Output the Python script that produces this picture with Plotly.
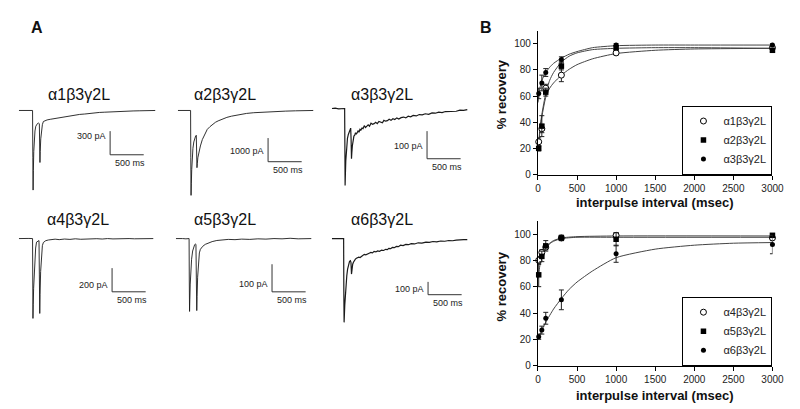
import plotly.graph_objects as go

# ======================= DATA =======================
# ---- Panel A: whole-cell current traces (time in ms, current in pA, baseline = 0) ----
a1_t = [0, 60, 120, 180, 204, 208, 212, 216, 222, 230, 240, 252, 263, 278, 292, 305, 309, 314, 318, 326,
        336, 350, 365, 390, 420, 467, 510, 560, 613, 680, 760, 830, 905, 980, 1050, 1120, 1197, 1270,
        1340, 1420, 1489, 1600, 1700, 1800, 1900, 2029]
a1_i = [0, 2, -1, 1, 0, -600, -1010, -760, -520, -360, -260, -200, -175, -165, -160, -168, -400, -660, -520, -360,
        -262, -180, -140, -130, -120, -112, -106, -95, -87, -80, -66, -60, -50, -45, -37, -32, -25, -22,
        -18, -14, -12, -9, -6, -4, -2, 0]

a2_t = [0, 60, 120, 190, 193, 197, 201, 207, 215, 225, 238, 252, 265, 275, 280, 285, 290, 298, 310, 322,
        336, 365, 394, 438, 480, 511, 560, 600, 660, 730, 800, 870, 950, 1022, 1130, 1240, 1350, 1460,
        1600, 1750, 1900, 2015]
a2_i = [0, 0, 0, 0, -2000, -3590, -3100, -2500, -1950, -1600, -1330, -1170, -1080, -1050, -1500, -2420, -2250,
        -2000, -1800, -1650, -1500, -1230, -1030, -800, -680, -600, -500, -440, -360, -292, -240, -200, -160,
        -125, -95, -75, -55, -42, -28, -15, -6, 0]

a3_t = [0, 50, 100, 150, 190, 194, 197, 201, 207, 214, 222, 232, 245, 258, 270, 280, 286, 292, 297, 305,
        315, 328, 340, 352, 364, 376, 390, 404, 418, 432, 448, 464, 482, 500, 520, 540, 560, 582, 604, 628,
        652, 676, 700, 726, 752, 774, 800, 826, 852, 880, 908, 936, 966, 996, 1030, 1066, 1100, 1136, 1172,
        1210, 1256, 1300, 1345, 1390, 1440, 1490, 1540, 1590, 1640, 1690, 1745, 1796, 1850, 1905, 1960, 2015]
a3_i = [0, 1, -1, 0, 0, -150, -279, -240, -190, -155, -128, -108, -94, -84, -76, -71, -110, -182, -160, -135,
        -112, -100, -97, -88, -93, -84, -81, -86, -75, -78, -71, -73, -62, -69, -63, -59, -64, -53, -57, -55,
        -50, -55, -47, -49, -52, -43, -46, -44, -39, -43, -37, -40, -34, -38, -33, -31, -34, -28, -30,
        -25, -27, -22, -23, -19, -21, -16, -17, -13, -15, -11, -10, -9, -10, -6, -7, -4]

a4_t = [0, 50, 100, 150, 204, 207, 210, 214, 220, 228, 238, 250, 263, 280, 300, 305, 311, 316, 324, 336,
        350, 365, 400, 440, 480, 540, 600, 680, 760, 840, 920, 1000, 1080, 1160, 1240, 1320, 1400, 1480,
        1560, 1640, 1720, 1800, 1880, 1960, 2000]
a4_i = [0, 2, -1, 1, 0, -400, -675, -560, -420, -280, -170, -80, -30, -20, -17, -300, -633, -470, -280, -133,
        -60, -33, -18, -12, -8, -5, -9, -4, -7, -2, -6, -3, -5, -1, -4, 0, -3, -1,
        -4, 0, -2, -1, 1, -1, 0]

a5_t = [0, 50, 100, 150, 197, 200, 204, 208, 214, 222, 234, 250, 265, 280, 292, 299, 305, 311, 316, 324,
        336, 350, 365, 400, 438, 490, 540, 610, 686, 780, 880, 980, 1100, 1220, 1340, 1460, 1580, 1700,
        1820, 1940, 2015]
a5_i = [0, 1, 0, -1, 0, -150, -264, -220, -165, -115, -75, -45, -30, -22, -20, -21, -150, -261, -210, -140,
        -75, -52, -39, -28, -21, -15, -11, -7, -5, -3, -4, -2, -3, -1, -2, 0, -1, 1,
        -1, 0, 0]

a6_t = [0, 50, 100, 150, 175, 178, 182, 186, 192, 200, 210, 222, 234, 248, 263, 276, 284, 292, 300, 310,
        321, 335, 350, 365, 382, 400, 420, 440, 462, 482, 505, 530, 555, 580, 605, 628, 655, 680, 710, 740,
        770, 800, 825, 847, 875, 900, 930, 960, 990, 1022, 1060, 1100, 1140, 1180, 1230, 1285, 1340, 1400,
        1450, 1504, 1560, 1620, 1680, 1740, 1796, 1850, 1910, 1960, 2015]
a6_i = [0, 1, -1, 0, 0, -400, -654, -600, -520, -440, -360, -290, -239, -205, -177, -172, -185, -277, -230, -200,
        -185, -168, -160, -154, -150, -145, -148, -138, -132, -123, -127, -118, -114, -108, -112, -100, -104, -96,
        -99, -90, -93, -84, -86, -76, -79, -69, -71, -61, -63, -52, -55, -46, -48, -40, -42, -33, -36, -28,
        -30, -23, -26, -19, -21, -15, -17, -12, -13, -9, -8]

trace_names = ["α1β3γ2L", "α2β3γ2L", "α3β3γ2L", "α4β3γ2L", "α5β3γ2L", "α6β3γ2L"]
bar_pa = [300, 1000, 100, 200, 100, 100]          # vertical scale bar (pA)
bar_ms = 500                                       # horizontal scale bar (ms)
bar_t0 = [1358, 1343, 1416, 1387, 1431, 1431]      # scale-bar corner, time (ms)
bar_i0 = [-562, -2167, -182, -450, -193, -438]     # scale-bar corner, current (pA)
bar_label_i = [-325, -1708, -136, -392, -164, -392]

# ---- Panel B: recovery from desensitization ----
intervals = [10, 50, 100, 300, 1000, 3000]
a1_rec = [25, 35, 66, 76, 93, 97]
a1_err = [3, 3, 3, 5, 1.5, 1]
a2_rec = [20, 37, 63, 83, 97, 95]
a2_err = [2, 8, 3, 3, 1.5, 1]
a3_rec = [62, 70, 78, 88, 99, 99]
a3_err = [4, 6, 3, 2, 1, 1]
a4_rec = [80, 86, 90, 97, 99, 97]
a4_err = [3, 2, 2, 2, 2, 2]
a5_rec = [69, 83, 91, 97, 96, 99]
a5_err = [9, 4, 4, 2, 5, 1]
a6_rec = [22, 27, 36, 50, 85, 92]
a6_err = [2, 3, 4.5, 7.5, 6.5, 7]

fit_x_top = [0, 10, 25, 50, 100, 150, 200, 300, 400, 500, 700, 1000, 1500, 2000, 3000]
fit1_top = [18, 22, 33, 44, 59, 66, 70, 76, 80.5, 84, 88.5, 92.5, 95, 96, 96.5]
fit2_top = [20, 24, 35, 46, 62, 72, 78, 86, 90.5, 93, 95.5, 96.5, 97, 97, 96.5]
fit3_top = [55, 59, 66, 72, 78, 82, 85, 89, 92, 94, 97, 98.5, 99, 99, 99]

fit_x_bot4 = [0, 10, 25, 50, 100, 150, 200, 300, 500, 1000, 3000]
fit4_bot = [76, 79, 83, 86, 90, 93, 95, 97, 98, 98.5, 98.5]
fit5_bot = [66, 70, 76, 82, 89, 92.5, 94.5, 96.5, 97.5, 97.5, 97.5]
fit_x_bot6 = [0, 50, 100, 200, 300, 400, 500, 700, 1000, 1500, 2000, 2500, 3000]
fit6_bot = [20, 27, 33, 43, 51, 58, 63.5, 72, 82, 88.5, 91.5, 93, 93.5]

x_ticks = [0, 500, 1000, 1500, 2000, 2500, 3000]
y_ticks = [0, 20, 40, 60, 80, 100]

# ======================= LAYOUT HELPERS =======================
W, H = 800, 409
FONT = "Liberation Sans, Arial, sans-serif"


def fx(px):
    return px / W


def fy(py):
    return 1 - py / H


fig = go.Figure()
annotations = []
axes = {}

# ---- Panel A cells: left px, top px, bottom px, baseline px, pA per px ----
MS_PER_PX = 14.6
CELL_W = 150
cells = [
    (8, 95, 195, 104, 12.5),
    (170, 95, 195, 104, 41.67),
    (327, 95, 195, 102, 3.57),
    (8, 225, 325, 234, 8.33),
    (168, 225, 325, 234, 3.57),
    (327, 225, 325, 234, 7.69),
]
title_pos = [(69, 88), (218, 88), (378, 88), (68, 215), (218, 215), (378, 215)]
traces_t = [a1_t, a2_t, a3_t, a4_t, a5_t, a6_t]
traces_i = [a1_i, a2_i, a3_i, a4_i, a5_i, a6_i]
line_w = [0.9, 0.9, 1.2, 0.9, 0.9, 1.2]

for k in range(6):
    n = k + 3
    left, top, bottom, base, s = cells[k]
    axes[f"xaxis{n}"] = dict(domain=[fx(left), fx(left + CELL_W)], range=[0, CELL_W * MS_PER_PX],
                             visible=False, anchor=f"y{n}", fixedrange=True)
    axes[f"yaxis{n}"] = dict(domain=[fy(bottom), fy(top)], range=[-(bottom - base) * s, (base - top) * s],
                             visible=False, anchor=f"x{n}", fixedrange=True)
    fig.add_trace(go.Scatter(x=traces_t[k], y=traces_i[k], mode="lines",
                             line=dict(color="#1a1a1a", width=line_w[k]),
                             xaxis=f"x{n}", yaxis=f"y{n}", showlegend=False, hoverinfo="skip"))
    t0, i0 = bar_t0[k], bar_i0[k]
    fig.add_trace(go.Scatter(x=[t0, t0, t0 + bar_ms], y=[i0 + bar_pa[k], i0, i0], mode="lines",
                             line=dict(color="#333", width=1),
                             xaxis=f"x{n}", yaxis=f"y{n}", showlegend=False, hoverinfo="skip"))
    annotations.append(dict(text=f"{bar_pa[k]} pA", x=t0 - 2.5 * MS_PER_PX, y=bar_label_i[k],
                            xref=f"x{n}", yref=f"y{n}", xanchor="right", yanchor="middle",
                            showarrow=False, font=dict(family=FONT, size=9, color="#222")))
    annotations.append(dict(text=f"{bar_ms} ms", x=t0 + 3 * MS_PER_PX, y=i0 - 8 * s,
                            xref=f"x{n}", yref=f"y{n}", xanchor="left", yanchor="middle",
                            showarrow=False, font=dict(family=FONT, size=9, color="#222")))
    tx, ty = title_pos[k]
    annotations.append(dict(text=trace_names[k], x=fx(tx), y=fy(ty), xref="paper", yref="paper",
                            xanchor="center", yanchor="middle", showarrow=False,
                            font=dict(family=FONT, size=16, color="#111")))

# ---- Panel B ----
marker_styles = [
    dict(symbol="circle", size=6, color="white", line=dict(color="black", width=1)),
    dict(symbol="square", size=5.5, color="black", line=dict(color="black", width=0)),
    dict(symbol="circle", size=5, color="black", line=dict(color="black", width=0)),
]


def add_group(xa, ya, legend, recs, errs, fits, names):
    for fx_vals, fy_vals in fits:
        fig.add_trace(go.Scatter(x=fx_vals, y=fy_vals, mode="lines",
                                 line=dict(color="#444", width=1, shape="spline", smoothing=0.6),
                                 xaxis=xa, yaxis=ya, showlegend=False, hoverinfo="skip", cliponaxis=False))
    for j in range(3):
        fig.add_trace(go.Scatter(x=intervals, y=recs[j], mode="markers", name=names[j],
                                 marker=marker_styles[j],
                                 error_y=dict(type="data", array=errs[j], visible=True, color="#222",
                                              thickness=1, width=2.5),
                                 xaxis=xa, yaxis=ya, legend=legend, cliponaxis=False))


add_group("x", "y", "legend", [a1_rec, a2_rec, a3_rec], [a1_err, a2_err, a3_err],
          [(fit_x_top, fit1_top), (fit_x_top, fit2_top), (fit_x_top, fit3_top)], trace_names[:3])
add_group("x2", "y2", "legend2", [a4_rec, a5_rec, a6_rec], [a4_err, a5_err, a6_err],
          [(fit_x_bot4, fit4_bot), (fit_x_bot4, fit5_bot), (fit_x_bot6, fit6_bot)], trace_names[3:])

axis_common = dict(showline=True, linecolor="black", linewidth=1, ticks="outside", ticklen=4, tickwidth=1,
                   tickcolor="black", showgrid=False, zeroline=False, fixedrange=True,
                   tickfont=dict(family=FONT, size=10, color="#222"))
axes["xaxis"] = dict(domain=[fx(537), fx(776)], range=[0, 3000], tickvals=x_ticks, anchor="y", **axis_common)
axes["yaxis"] = dict(domain=[fy(169), fy(23)], range=[0, 110], tickvals=y_ticks, anchor="x", **axis_common)
axes["xaxis2"] = dict(domain=[fx(537), fx(776)], range=[0, 3000], tickvals=x_ticks, anchor="y2", **axis_common)
axes["yaxis2"] = dict(domain=[fy(363), fy(216)], range=[0, 110], tickvals=y_ticks, anchor="x2", **axis_common)

bold = dict(family=FONT, size=13, color="#111")
for (tx, ty, txt, ang) in [(500, 88, "% recovery", -90), (500, 283, "% recovery", -90),
                           (656, 197, "interpulse interval (msec)", 0),
                           (656, 393, "interpulse interval (msec)", 0)]:
    annotations.append(dict(text=f"<b>{txt}</b>", x=fx(tx), y=fy(ty), xref="paper", yref="paper",
                            xanchor="center", yanchor="middle", showarrow=False, textangle=ang, font=bold))

for (tx, ty, txt) in [(27, 20, "A"), (484, 20, "B")]:
    annotations.append(dict(text=f"<b>{txt}</b>", x=fx(tx), y=fy(ty), xref="paper", yref="paper",
                            xanchor="center", yanchor="middle", showarrow=False,
                            font=dict(family=FONT, size=16, color="#111")))

legend_common = dict(xanchor="right", yanchor="bottom", bordercolor="black", borderwidth=1, bgcolor="white",
                     font=dict(family=FONT, size=11, color="#222"), tracegroupgap=0, itemwidth=30)

fig.update_layout(
    width=W, height=H, margin=dict(l=0, r=0, t=0, b=0),
    paper_bgcolor="white", plot_bgcolor="white",
    annotations=annotations,
    legend=dict(x=fx(776), y=fy(169), **legend_common),
    legend2=dict(x=fx(776), y=fy(363), **legend_common),
    **axes,
)

fig.write_html("out.html")
